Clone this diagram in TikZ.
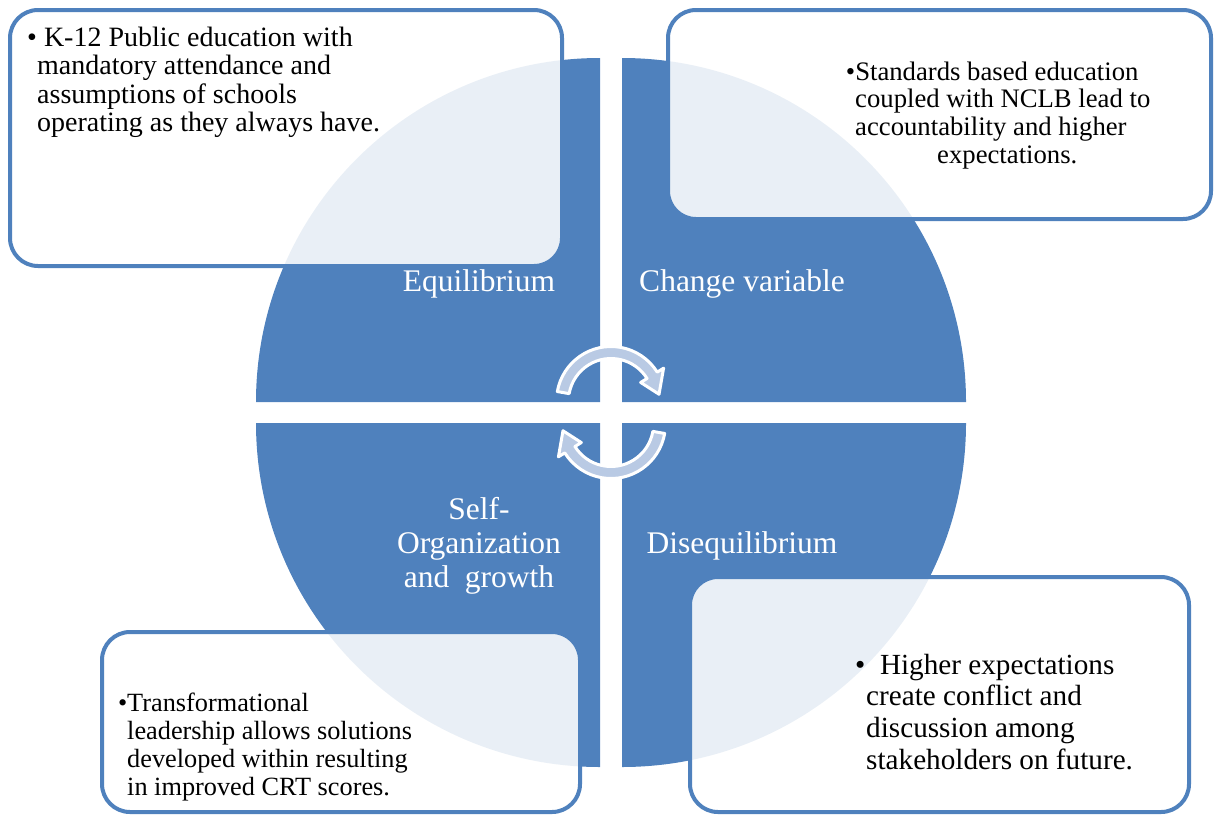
\documentclass[tikz,border=0pt]{standalone}
\usepackage{fontspec}
\setmainfont{Liberation Serif}
\definecolor{qblue}{HTML}{4F81BD}
\definecolor{arrowfill}{HTML}{B9CAE4}
\begin{document}
\begin{tikzpicture}[x=1pt,y=-1pt,
  quad/.style={fill=qblue, draw=none},
  note/.style={draw=qblue, line width=4pt, fill=white, fill opacity=0.88, rounded corners=28pt},
  qlabel/.style={text=white, inner sep=0pt, anchor=base},
  notetext/.style={anchor=base west, inner sep=0pt, text=black},
  cyc/.style={fill=arrowfill, draw=white, line width=3pt, line join=round}]
\useasboundingbox (0,0) rectangle (1214,814);
% quadrants
\path[quad] (600,402) -- (256,402) arc[start angle=180, end angle=270, radius=344] -- cycle;
\path[quad] (622,402) -- (622,58) arc[start angle=270, end angle=360, radius=344] -- cycle;
\path[quad] (622,423) -- (966,423) arc[start angle=0, end angle=90, radius=344] -- cycle;
\path[quad] (600,423) -- (600,767) arc[start angle=90, end angle=180, radius=344] -- cycle;
% quadrant labels
\node[qlabel] (lq1) at (479,291) {\fontsize{31.5}{34}\selectfont Equilibrium};
\node[qlabel] (lq2) at (742,291) {\fontsize{31.5}{34}\selectfont Change variable};
\node[qlabel] (lq3) at (479,519) {\parbox[t]{220pt}{\centering\fontsize{31.5}{34}\selectfont Self-\\Organization\\and\ \ growth}};
\node[qlabel] (lq4) at (742,553) {\fontsize{31.5}{34}\selectfont Disequilibrium};
% boxes
\path[note] (10,10) rectangle (562,266);
\path[note] (668,10) rectangle (1211,219);
\path[note] (102,632) rectangle (580,812);
\path[note] (690,577) rectangle (1189,812);
% texts
\node[notetext] (t1) at (37,46) {\parbox[t]{520pt}{\raggedright\fontsize{28}{28.6}\selectfont
\hspace*{-10pt}\textbullet\ K-12 Public education with\\
mandatory attendance and\\
assumptions of schools\\
operating as they always have.}};
\node[notetext] (t2) at (855,80) {\parbox[t]{340pt}{\raggedright\fontsize{26.7}{27.8}\selectfont
\hspace*{-9.3pt}\textbullet Standards based education\\
coupled with NCLB lead to\\
accountability and higher\\
\hspace*{82pt}expectations.}};
\node[notetext] (t3) at (127,711) {\parbox[t]{420pt}{\raggedright\fontsize{26.3}{28}\selectfont
\hspace*{-9.2pt}\textbullet Transformational\\
leadership allows solutions\\
developed within resulting\\
in improved CRT scores.}};
\node[notetext] (t4) at (866,674) {\parbox[t]{300pt}{\raggedright\fontsize{29.2}{31.7}\selectfont
\hspace*{-11pt}\textbullet\ \ Higher expectations\\
create conflict and\\
discussion among\\
stakeholders on future.}};
% cycle arrows
\path[cyc, shift={(611,401)}] (190:54.5) arc[start angle=190, end angle=328, radius=54.5]
  -- (328:62) -- (352:48.5) -- (328:35) -- (328:42.5)
  arc[start angle=328, end angle=190, radius=42.5] -- cycle;
\path[cyc, shift={(611,424)}] (10:54.5) arc[start angle=10, end angle=148, radius=54.5]
  -- (148:62) -- (172:48.5) -- (148:35) -- (148:42.5)
  arc[start angle=148, end angle=10, radius=42.5] -- cycle;
\end{tikzpicture}
\end{document}
